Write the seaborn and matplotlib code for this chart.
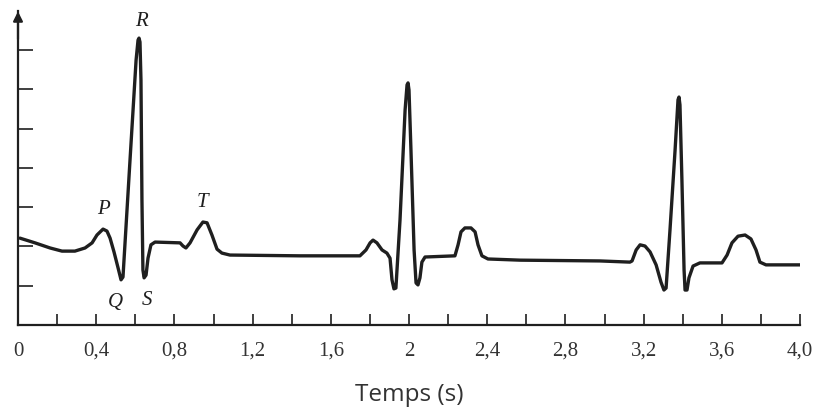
import seaborn as sns
import matplotlib.pyplot as plt
import pandas as pd
import numpy as np

# ECG trace (time in s, amplitude in tick units)
temps = [
    0.010, 0.087, 0.164, 0.225, 0.291, 0.343, 0.379, 0.404, 0.435, 0.455,
    0.471, 0.491, 0.512, 0.527, 0.537, 0.573, 0.604, 0.614, 0.619, 0.624,
    0.629, 0.634, 0.639, 0.645, 0.655, 0.665, 0.680, 0.701, 0.829, 0.844,
    0.859, 0.880, 0.916, 0.946, 0.967, 0.992, 1.018, 1.043, 1.084, 1.442,
    1.749,
    1.780, 1.801, 1.816, 1.836, 1.862, 1.887, 1.903, 1.913, 1.923, 1.933,
    1.954, 1.980, 1.990, 1.995, 2.000, 2.010, 2.026, 2.036, 2.046, 2.056,
    2.066, 2.082, 2.235, 2.251, 2.266, 2.286, 2.317, 2.338, 2.353, 2.373,
    2.404, 2.568, 2.977, 3.130,
    3.141, 3.162, 3.182, 3.207, 3.233, 3.264, 3.289, 3.304, 3.315, 3.335,
    3.361, 3.376, 3.381, 3.386, 3.396, 3.407, 3.412, 3.422, 3.432, 3.453,
    3.488, 3.601, 3.627, 3.652, 3.683, 3.719, 3.749, 3.775, 3.795, 3.826,
    4.000,
]
tension = [
    2.21, 2.09, 1.96, 1.88, 1.88, 1.96, 2.09, 2.29, 2.44, 2.39,
    2.21, 1.86, 1.45, 1.15, 1.22, 4.20, 6.74, 7.25, 7.30, 7.20,
    6.23, 3.18, 1.40, 1.20, 1.27, 1.70, 2.04, 2.11, 2.09, 2.01,
    1.96, 2.09, 2.42, 2.62, 2.60, 2.29, 1.93, 1.83, 1.78, 1.76,
    1.76,
    1.91, 2.09, 2.16, 2.09, 1.91, 1.83, 1.70, 1.15, 0.92, 0.94,
    2.67, 5.47, 6.11, 6.16, 5.98, 4.45, 1.91, 1.07, 1.02, 1.20,
    1.60, 1.73, 1.76, 2.04, 2.37, 2.47, 2.47, 2.37, 2.04, 1.76,
    1.68, 1.65, 1.63, 1.60,
    1.63, 1.91, 2.04, 2.01, 1.86, 1.53, 1.09, 0.89, 0.94, 2.42,
    4.45, 5.73, 5.80, 5.60, 3.69, 1.40, 0.89, 0.89, 1.20, 1.50,
    1.58, 1.58, 1.78, 2.09, 2.26, 2.29, 2.19, 1.91, 1.60, 1.53,
    1.53,
]

# wave names and the index of the point they sit next to
ondes = ["P", "Q", "R", "S", "T"]
onde_idx = [8, 13, 18, 23, 33]
onde_dy = [14, -16, 12, -16, 14]
onde_dx = [0, -4, 2, 2, 0]

xticks = [round(0.2 * i, 1) for i in range(21)]
xlabels = ["0", "", "0,4", "", "0,8", "", "1,2", "", "1,6", "", "2",
           "", "2,4", "", "2,8", "", "3,2", "", "3,6", "", "4,0"]
yticks = [1, 2, 3, 4, 5, 6, 7]

df = pd.DataFrame({"t": temps, "v": tension})

sns.set_style("white")
ink = "#1f1f1f"

fig = plt.figure(figsize=(8.18, 4.12), dpi=100)
ax = fig.add_axes([18 / 818, 87 / 412, 782 / 818, 314.4 / 412])

sns.lineplot(data=df, x="t", y="v", sort=False, estimator=None,
             color=ink, lw=2.4, ax=ax)
ax.lines[0].set_solid_joinstyle("round")
ax.lines[0].set_solid_capstyle("round")

ax.set_xlim(0, 4.0)
ax.set_ylim(0, 8)
for side in ["top", "right"]:
    ax.spines[side].set_visible(False)
for side in ["left", "bottom"]:
    ax.spines[side].set_color(ink)
    ax.spines[side].set_linewidth(1.6)

ax.set_xticks(xticks)
ax.set_xticklabels(xlabels, family="Liberation Serif", fontsize=15, color="#333333")
ax.set_yticks(yticks)
ax.set_yticklabels([])
ax.tick_params(axis="x", bottom=True, direction="in", length=8, width=1.2,
               color=ink, pad=12)
ax.tick_params(axis="y", left=True, direction="in", length=11, width=1.2,
               color=ink)

ax.set_xlabel("Temps (s)", family="Open Sans", fontsize=17.5, color="#333333",
              labelpad=16)
ax.set_ylabel("")

# arrow head on the vertical axis
ax.annotate("", xy=(0, 8.05), xytext=(0, 7.2),
            arrowprops=dict(arrowstyle="-|>", color=ink, lw=1.6,
                            mutation_scale=14),
            annotation_clip=False)

for name, i, dy, dx in zip(ondes, onde_idx, onde_dy, onde_dx):
    ax.annotate(name, xy=(temps[i], tension[i]), xytext=(dx, dy),
                textcoords="offset points", ha="center", va="center",
                family="Liberation Serif", style="italic", fontsize=15,
                color=ink)

plt.savefig("out.png", dpi=100)
